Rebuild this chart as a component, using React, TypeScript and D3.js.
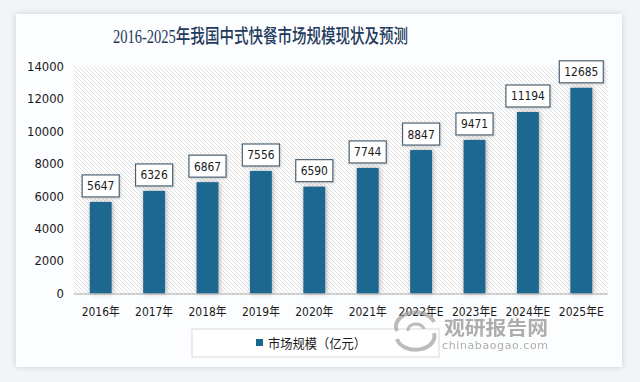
import React from "react";
import * as d3 from "d3";

const categories = ["2016年", "2017年", "2018年", "2019年", "2020年", "2021年", "2022年E", "2023年E", "2024年E", "2025年E"];
const values = [5647, 6326, 6867, 7556, 6590, 7744, 8847, 9471, 11194, 12685];
const yTicks = [0, 2000, 4000, 6000, 8000, 10000, 12000, 14000];
const title = "2016-2025年我国中式快餐市场规模现状及预测";
const seriesName = "市场规模（亿元）";

const W = 640, H = 382;
const plot = { left: 74, right: 608, top: 66.5, bottom: 293.5 };
const barColor = "#1a6890";

export default function App() {
  const x = d3.scaleBand<string>().domain(categories).range([plot.left, plot.right]).paddingInner(0.59).paddingOuter(0.295);
  const y = d3.scaleLinear().domain([0, 14000]).range([plot.bottom, plot.top]);
  const bw = x.bandwidth();
  const digitFont = "'DejaVu Sans', 'Noto Sans CJK SC', sans-serif";
  const cjk = "'Noto Sans CJK SC', sans-serif";
  return (
    <svg width={W} height={H} style={{ position: "absolute", left: 0, top: 0, display: "block" }}>
      <defs>
        <pattern id="hatch" width="4" height="4" patternUnits="userSpaceOnUse">
          <rect width="4" height="4" fill="#ffffff" />
          <path d="M-1,-1 L5,5 M-1,3 L1,5 M3,-1 L5,1" stroke="#dedede" strokeWidth="1" />
        </pattern>
        <filter id="cardShadow" x="-5%" y="-5%" width="110%" height="110%">
          <feDropShadow dx="0" dy="0" stdDeviation="3" floodColor="#9aa0a8" floodOpacity="0.45" />
        </filter>
        <filter id="barShadow" x="-50%" y="-10%" width="200%" height="120%">
          <feDropShadow dx="1" dy="0" stdDeviation="2.5" floodColor="#707070" floodOpacity="0.55" />
        </filter>
        <filter id="boxShadow" x="-20%" y="-20%" width="140%" height="140%">
          <feDropShadow dx="1" dy="1" stdDeviation="1" floodColor="#909090" floodOpacity="0.4" />
        </filter>
      </defs>
      <rect x={0} y={0} width={W} height={H} fill="#f3f4f7" />
      <rect x={16} y={14} width={606} height={353} fill="#fcfdfe" filter="url(#cardShadow)" />
      <text x={260.5} y={43} textAnchor="middle" fontFamily="'Liberation Serif', 'Noto Sans CJK SC', serif" fontSize={19} fill="#1e3a5c" fontWeight={500} textLength={295} lengthAdjust="spacingAndGlyphs">{title}</text>
      <rect x={plot.left} y={plot.top} width={plot.right - plot.left} height={plot.bottom - plot.top} fill="url(#hatch)" />
      {yTicks.map(t => (
        <text key={t} x={64} y={y(t)} dy="0.36em" textAnchor="end" fontFamily={digitFont} fontSize={12} fill="#1a1a1a" textLength={String(t).length * 7.4} lengthAdjust="spacingAndGlyphs">{t}</text>
      ))}
      {categories.map((c, i) => (
        <rect key={c} x={x(c)!} y={y(values[i])} width={bw} height={plot.bottom - y(values[i])} fill={barColor} filter="url(#barShadow)" />
      ))}
      <line x1={plot.left} x2={plot.right} y1={plot.bottom + 0.5} y2={plot.bottom + 0.5} stroke="#a6a6a6" strokeWidth={1} />
      {categories.map((c, i) => {
        const cx = x(c)! + bw / 2;
        const label = String(values[i]);
        const bwid = label.length * 6.9 + 9.5;
        const by = y(values[i]) - 5 - 22;
        return (
          <g key={c}>
            <rect x={cx - bwid / 2} y={by} width={bwid} height={22} fill="#ffffff" stroke="#4d6475" strokeWidth={1.2} filter="url(#boxShadow)" />
            <text x={cx} y={by + 11} dy="0.36em" textAnchor="middle" fontFamily={digitFont} fontSize={12.5} fill="#1a1a1a" textLength={label.length * 6.8} lengthAdjust="spacingAndGlyphs">{label}</text>
          </g>
        );
      })}
      {categories.map(c => (
        <text key={c} x={x(c)! + bw / 2} y={311} dy="0.36em" textAnchor="middle" fontFamily={digitFont} fontSize={12.5} fill="#1a1a1a" textLength={c.endsWith("E") ? 45 : 38} lengthAdjust="spacingAndGlyphs">{c}</text>
      ))}
      <rect x={192} y={329} width={247} height={28} fill="#ffffff" stroke="#d9d9d9" strokeWidth={1} />
      <rect x={256} y={339} width={7} height={7} fill={barColor} />
      <text x={268} y={343} dy="0.36em" fontFamily={cjk} fontSize={13} fill="#1a1a1a" textLength={98} lengthAdjust="spacingAndGlyphs">{seriesName}</text>
      <g opacity={0.7}>
        <g fill="none" stroke="#a0a0a0" strokeWidth={4}>
          <path d="M397,331 A18,13 0 0 1 434,322" />
          <path d="M434,333 A18,13 0 0 1 397,339" />
          <path d="M408,331 A8,6 0 0 1 424,329" strokeWidth={3} />
        </g>
        <text x={496} y={335} textAnchor="middle" fontFamily={cjk} fontSize={19} fontWeight={700} fill="#8c8c8c" textLength={104} lengthAdjust="spacingAndGlyphs">观研报告网</text>
        <text x={495} y={349} textAnchor="middle" fontFamily={digitFont} fontSize={11} fill="#8c8c8c" textLength={106} lengthAdjust="spacing">chinabaogao.com</text>
      </g>
    </svg>
  );
}
